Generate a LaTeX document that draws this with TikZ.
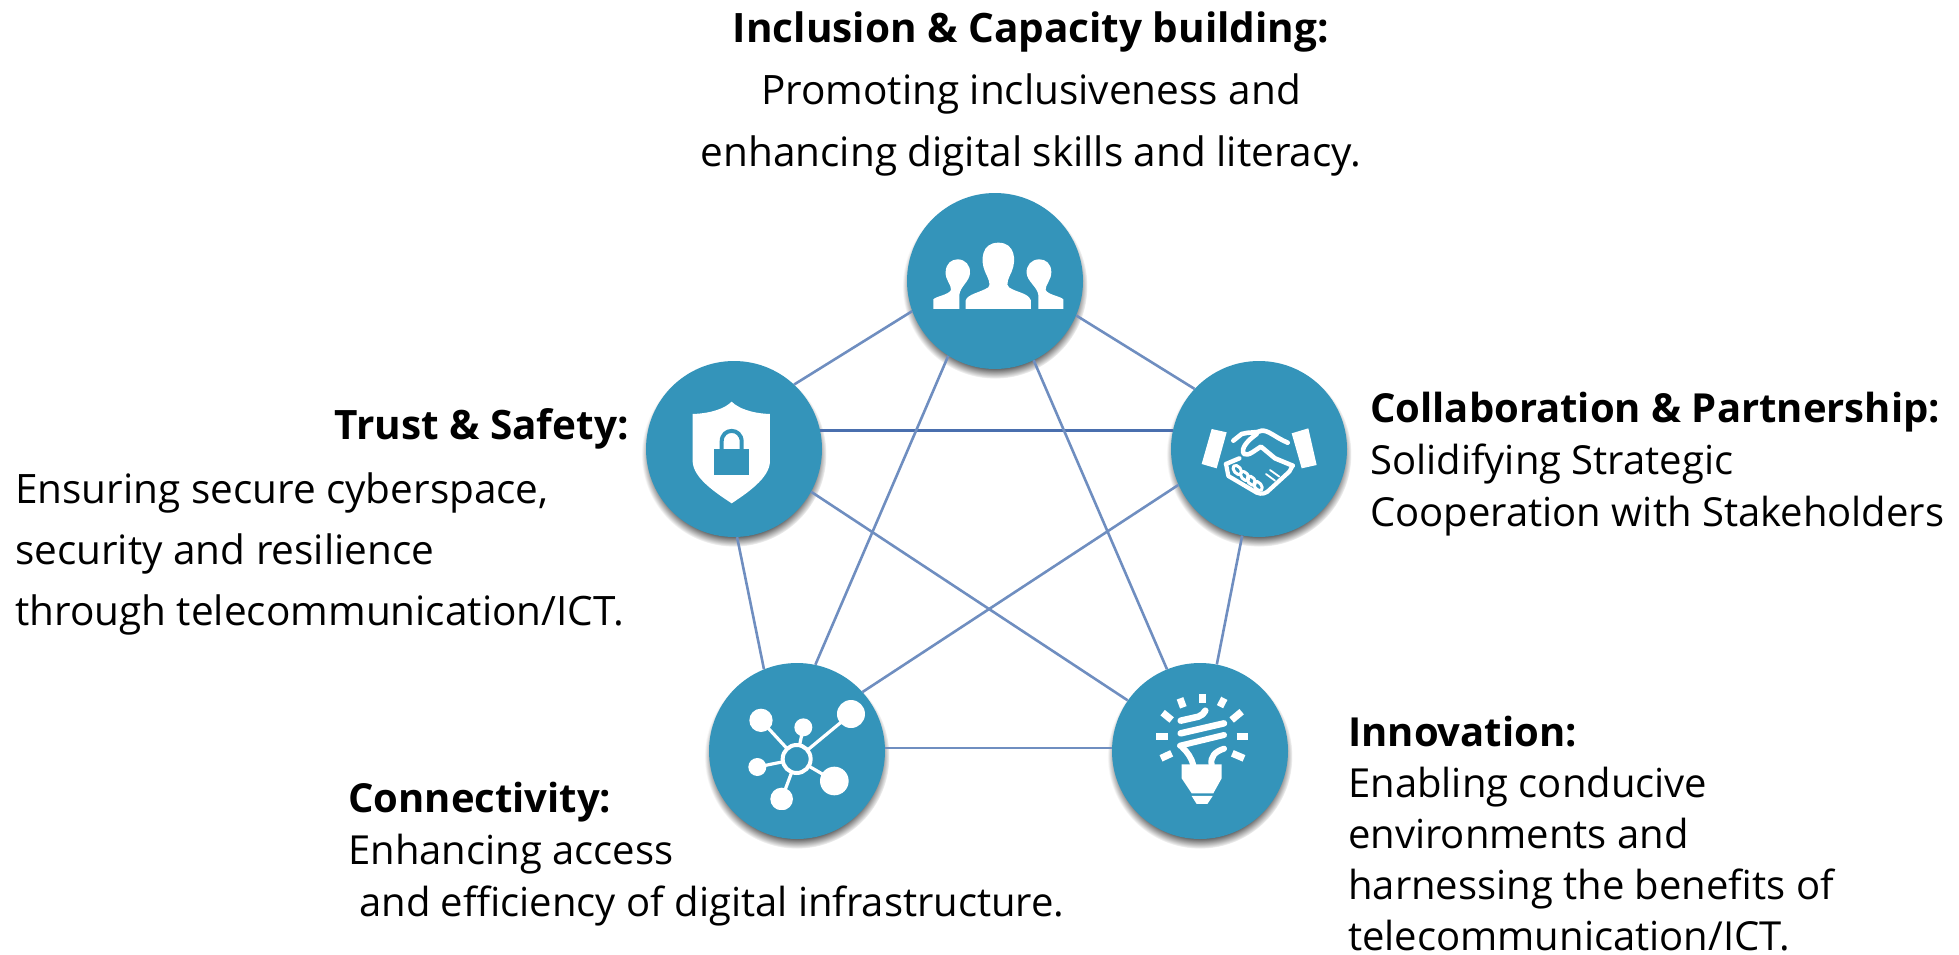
\documentclass[tikz,border=0pt]{standalone}
\usepackage{fontspec}
\setmainfont{Open Sans}
\usetikzlibrary{shadows}
\definecolor{teal}{HTML}{3494BA}
\definecolor{linkc}{HTML}{6F8EC0}
\definecolor{linkd}{HTML}{4A6FAE}
\tikzset{
 hub/.style={circle,fill=teal,minimum size=176pt,inner sep=0pt,
   circular drop shadow={shadow xshift=0pt,shadow yshift=-5pt,shadow scale=1.05,fill=black,opacity=.8}},
 link/.style={draw=linkc,line width=2.6pt},
 txt/.style={inner sep=0pt,font=\fontsize{40.5}{51.5}\selectfont},
 txts/.style={inner sep=0pt,font=\fontsize{40}{51.7}\selectfont},
 txti/.style={inner sep=0pt,font=\fontsize{40}{51}\selectfont},
 wline/.style={draw=white,line cap=round,line join=round}
}
\begin{document}
\begin{tikzpicture}[x=1pt,y=-1pt]
\useasboundingbox (0,0) rectangle (1959,954);
% hubs
\node[hub] (top) at (995,281) {};
\node[hub] (trust) at (734,449) {};
\node[hub] (coll) at (1259,449) {};
\node[hub] (conn) at (797,751) {};
\node[hub] (inno) at (1200,751) {};
% links
\draw[link] (top.200) -- (trust.47);
\draw[link] (top.-23) -- (coll.137);
\draw[link,draw=linkd] (trust.12) -- (coll.168);
\draw[link] (trust.-29) -- (inno.145);
\draw[link] (trust.-88) -- (conn.112);
\draw[link] (coll.-101) -- (inno.79);
\draw[link] (coll.204.5) -- (conn.42);
\draw[link] (conn.2) -- (inno.178);
\draw[link] (top.238) -- (conn.78);
\draw[link] (top.-64.6) -- (inno.112);
% people icon
\begin{scope}[shift={(880,170)},x=.3333pt,y=-.3333pt]
\fill[white] (257,417) -- (257,392) .. controls (262,372) and (300,368) .. (325,352) .. controls (335,345) and (322,320) .. (315,305) .. controls (300,270) and (305,218) .. (355,218) .. controls (405,218) and (410,270) .. (395,305) .. controls (388,320) and (375,345) .. (387,352) .. controls (410,368) and (445,368) .. (453,392) -- (453,417) -- cycle;
\fill[white] (160,417) -- (160,388) .. controls (170,378) and (205,375) .. (213,360) .. controls (215,345) and (195,330) .. (197,305) .. controls (198,280) and (215,268) .. (233,268) .. controls (255,268) and (272,285) .. (270,310) .. controls (268,335) and (240,350) .. (238,375) -- (238,417) -- cycle;
\fill[white] (550,417) -- (550,388) .. controls (540,378) and (505,375) .. (497,360) .. controls (495,345) and (515,330) .. (514,305) .. controls (513,280) and (497,268) .. (478,268) .. controls (455,268) and (438,285) .. (440,310) .. controls (442,335) and (472,350) .. (475,375) -- (475,417) -- cycle;
\end{scope}
% shield icon
\begin{scope}[shift={(630,350)},x=.3333pt,y=-.3333pt]
\fill[white] (305,155) .. controls (285,175) and (245,190) .. (188,192) -- (188,335) .. controls (190,385) and (260,430) .. (305,460) .. controls (350,430) and (418,385) .. (420,335) -- (420,192) .. controls (365,190) and (325,175) .. (305,155) -- cycle;
\fill[teal] (253,296) rectangle (357,376);
\draw[teal,line width=4pt] (275,300) -- (275,275) .. controls (275,232) and (335,232) .. (335,275) -- (335,300);
\end{scope}
% handshake icon
\begin{scope}[shift={(1160,350)},x=.3333pt,y=-.3333pt]
\fill[white] (155,237) -- (200,247) -- (170,355) -- (125,342) -- cycle;
\fill[white] (395,250) -- (445,235) -- (470,345) -- (425,355) -- cycle;
\draw[wline,line width=4.6pt] (220,272) -- (245,252) .. controls (265,245) and (290,250) .. (305,242) .. controls (325,240) and (345,262) .. (383,278);
\draw[wline,line width=4.6pt] (290,252) .. controls (265,270) and (240,295) .. (252,312) .. controls (265,320) and (285,300) .. (303,290) -- (345,325) -- (398,347);
\draw[wline,line width=4.4pt] (198,342) -- (238,325);
\draw[wline,line width=4.2pt] (198,342) -- (205,378) -- (290,428) .. controls (305,435) and (320,430) .. (330,418) -- (388,365) -- (398,347);
\foreach \a/\b in {232/360,254/378,274/392,294/408}
 \draw[wline,line width=3pt,rotate around={-50:(\a,\b)}] (\a,\b) ellipse (16 and 10);
\draw[wline,line width=1.8pt] (318,372) -- (345,392);
\draw[wline,line width=1.8pt] (330,360) -- (358,380);
\end{scope}
% network icon
\begin{scope}[shift={(700,650)},x=.3333pt,y=-.3333pt]
\foreach \a/\b in {183/211,310/232,453/192,172/351,403/393,245/447}
 \draw[wline,line width=3.2pt] (290,327) -- (\a,\b);
\fill[teal] (290,327) circle (42);
\draw[white,line width=4pt] (290,327) circle (42);
\fill[white] (183,211) circle (35);
\fill[white] (310,232) circle (27);
\fill[white] (453,192) circle (42);
\fill[white] (172,351) circle (27);
\fill[white] (403,393) circle (43);
\begin{scope}
\clip (190,400) rectangle (300,479);
\fill[white] (245,447) circle (34);
\end{scope}
\end{scope}
% bulb icon
\begin{scope}[shift={(1100,650)},x=.3333pt,y=-.3333pt]
\draw[white,line width=7pt] (307,132) -- (307,158);
\draw[white,line width=7pt] (240,145) -- (250,172);
\draw[white,line width=7pt] (373,145) -- (360,170);
\draw[white,line width=7pt] (188,188) -- (215,210);
\draw[white,line width=7pt] (425,185) -- (395,210);
\draw[white,line width=7pt] (168,258) -- (203,258);
\draw[white,line width=7pt] (410,258) -- (445,258);
\draw[white,line width=7pt] (183,325) -- (215,310);
\draw[white,line width=7pt] (397,310) -- (432,325);
\draw[wline,line width=6.5pt] (242,212) -- (295,200) .. controls (305,197) and (312,190) .. (316,182);
\draw[wline,line width=6.5pt] (242,250) -- (372,220);
\draw[wline,line width=6pt] (240,287) -- (372,255);
\draw[wline,line width=6pt] (245,290) .. controls (262,305) and (275,325) .. (280,345);
\draw[wline,line width=6pt] (335,345) .. controls (330,320) and (345,305) .. (372,296);
\fill[white] (245,343) -- (365,343) -- (365,385) -- (340,430) -- (275,430) -- (245,385) -- cycle;
\fill[white] (275,438) -- (338,438) -- (322,462) -- (290,462) -- cycle;
\end{scope}
% texts
\node[txt,anchor=north,align=center] (tinc) at (1031,12) {\textbf{Inclusion \& Capacity building:}\\[10.5pt]Promoting inclusiveness and\\[10.5pt]enhancing digital skills and literacy.};
\node[txt,anchor=base east] (ttrust) at (629,439) {\textbf{Trust \& Safety:}};
\node[txt,anchor=north west,align=left] (ttrustb) at (15,473) {Ensuring secure cyberspace,\\[9.5pt]security and resilience\\[9.5pt]through telecommunication/ICT.};
\node[txts,anchor=north west,align=left] (tcoll) at (1370,392) {\textbf{Collaboration \& Partnership:}\\Solidifying Strategic\\Cooperation with Stakeholders};
\node[txti,anchor=north west,align=left] (tinno) at (1348,716) {\textbf{Innovation:}\\Enabling conducive\\environments and\\harnessing the benefits of\\telecommunication/ICT.};
\node[txts,anchor=north west,align=left] (tconn) at (348,782) {\textbf{Connectivity:}\\Enhancing access\\\hspace*{11pt}and efficiency of digital infrastructure.};
\end{tikzpicture}
\end{document}
